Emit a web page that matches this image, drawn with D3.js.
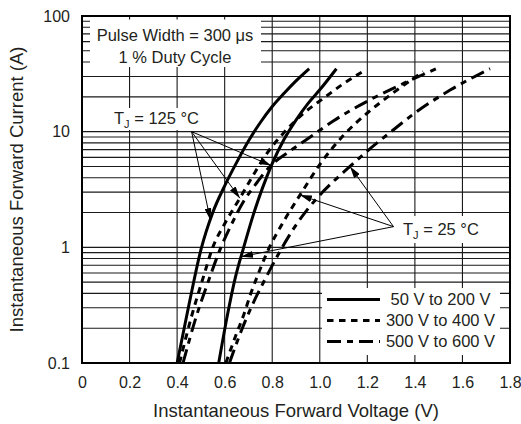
<!DOCTYPE html>
<html><head><meta charset="utf-8">
<script src="https://cdn.jsdelivr.net/npm/d3@7"></script>
<style>
html,body{margin:0;padding:0;background:#fff;}
svg{display:block;}
text{font-family:"Liberation Sans",Arial,Helvetica,sans-serif;fill:#231f20;}
</style>
</head><body>
<svg id="chart" width="521" height="424"></svg>
<script>
// ---------- data ----------
const xTickValues = [0, 0.2, 0.4, 0.6, 0.8, 1.0, 1.2, 1.4, 1.6, 1.8];
const xTickLabels = ["0", "0.2", "0.4", "0.6", "0.8", "1.0", "1.2", "1.4", "1.6", "1.8"];
const yTickValues = [0.1, 1, 10, 100];
const yTickLabels = ["0.1", "1", "10", "100"];
const seriesNames = ["50 V to 200 V", "300 V to 400 V", "500 V to 600 V"];

// [forward voltage (V), forward current (A)]
const tj125_50to200 = [[0.40,0.1],[0.45,0.32],[0.50,0.95],[0.55,2.0],[0.60,3.4],[0.65,5.4],[0.70,8.3],[0.75,12],[0.80,16.5],[0.85,21.5],[0.90,27.5],[0.955,35]];
const tj125_300to400 = [[0.41,0.1],[0.46,0.25],[0.51,0.55],[0.55,1.0],[0.60,1.6],[0.664,2.66],[0.72,4.2],[0.78,6.6],[0.847,9.7],[0.93,14.3],[1.015,19.4],[1.10,26],[1.18,33]];
const tj125_500to600 = [[0.425,0.1],[0.48,0.25],[0.53,0.5],[0.58,0.95],[0.63,1.6],[0.68,2.5],[0.73,3.5],[0.79,5.0],[0.87,6.7],[0.96,9.0],[1.06,12.5],[1.21,18.8],[1.35,26],[1.49,35]];
const tj25_50to200 = [[0.575,0.1],[0.61,0.25],[0.645,0.55],[0.68,1.0],[0.72,1.9],[0.76,3.3],[0.80,5.3],[0.85,8.6],[0.90,12.6],[0.95,17.5],[1.0,23],[1.07,35]];
const tj25_300to400 = [[0.605,0.1],[0.65,0.18],[0.68,0.26],[0.71,0.4],[0.74,0.58],[0.78,0.92],[0.85,1.7],[0.92,2.9],[1.0,5.2],[1.1,9.3],[1.2,14.5],[1.3,21],[1.435,33]];
const tj25_500to600 = [[0.62,0.1],[0.67,0.19],[0.72,0.33],[0.77,0.53],[0.82,0.83],[0.89,1.45],[0.95,2.15],[1.015,3.05],[1.127,5.0],[1.2,6.8],[1.3,10],[1.41,15],[1.55,23],[1.716,35]];

// annotation anchors (data units) and arrow target currents on each curve
const tj125Origin = [0.461, 10];
const tj125TargetCurrents = [1.72, 2.66, 5.1];
const tj25Origin = [1.31, 1.51];
const tj25TargetCurrents = [0.83, 2.83, 5.0];

// ---------- layout ----------
const L = 82, R = 510, T = 16, B = 363;
const svg = d3.select("#chart");
const x = d3.scaleLinear().domain([0, 1.8]).range([L, R]);
const y = d3.scaleLog().domain([0.1, 100]).range([B, T]);

const styles = [
  {dash: null},
  {dash: "6.5,5.5"},
  {dash: "14,6,6,6"}
];

// grid
const grid = svg.append("g").attr("stroke", "#1a1a1a").attr("stroke-width", 1.1);
grid.selectAll("line.v").data(xTickValues.filter(v => v > 0 && v < 1.8)).join("line")
  .attr("x1", d => x(d)).attr("x2", d => x(d)).attr("y1", T).attr("y2", B);
grid.selectAll("line.h").data(y.ticks().filter(v => v > 0.1 + 1e-9 && v < 100 - 1e-9)).join("line")
  .attr("x1", L).attr("x2", R).attr("y1", d => y(d)).attr("y2", d => y(d));

// white boxes covering grid behind labels
const boxes = [
  [90, 19.5, 171, 47.5],   // pulse width note
  [107, 108, 100, 22],     // TJ 125
  [400, 216, 92, 27],      // TJ 25
  [322, 288, 178, 67]      // legend
];
svg.append("g").selectAll("rect").data(boxes).join("rect")
  .attr("x", d => d[0]).attr("y", d => d[1]).attr("width", d => d[2]).attr("height", d => d[3])
  .attr("fill", "#fff");

// curves
const line = d3.line().x(d => x(d[0])).y(d => y(d[1])).curve(d3.curveMonotoneX);
const curves = [
  {data: tj125_50to200, s: 0}, {data: tj125_300to400, s: 1}, {data: tj125_500to600, s: 2},
  {data: tj25_50to200, s: 0}, {data: tj25_300to400, s: 1}, {data: tj25_500to600, s: 2}
];
svg.append("g").selectAll("path").data(curves).join("path")
  .attr("d", d => line(d.data))
  .attr("fill", "none").attr("stroke", "#000").attr("stroke-width", 3)
  .attr("stroke-dasharray", d => styles[d.s].dash);

// frame
svg.append("rect").attr("x", L).attr("y", T).attr("width", R - L).attr("height", B - T)
  .attr("fill", "none").attr("stroke", "#000").attr("stroke-width", 2);

// axes
const xAxis = d3.axisBottom(x).tickValues(xTickValues).tickSize(0).tickPadding(14)
  .tickFormat((d, i) => xTickLabels[i]);
const gx = svg.append("g").attr("transform", `translate(0,${B})`).call(xAxis);
gx.select(".domain").remove();
gx.selectAll("text").attr("font-size", 16).attr("font-family", null).style("fill", "#231f20");

const yAxis = d3.axisLeft(y).tickValues(yTickValues).tickSize(0).tickPadding(12)
  .tickFormat((d, i) => yTickLabels[i]);
const gy = svg.append("g").attr("transform", `translate(${L},0)`).call(yAxis);
gy.select(".domain").remove();
gy.selectAll("text").attr("font-size", 16).attr("font-family", null).style("fill", "#231f20");
svg.selectAll(".tick line").remove();
svg.selectAll("g").attr("font-family", null);

// axis titles
svg.append("text").attr("x", (L + R) / 2).attr("y", 417).attr("text-anchor", "middle")
  .attr("font-size", 18.5).text("Instantaneous Forward Voltage (V)");
svg.append("text").attr("transform", `translate(23,${(T + B) / 2}) rotate(-90)`)
  .attr("text-anchor", "middle").attr("font-size", 18.5).text("Instantaneous Forward Current (A)");

// notes
svg.append("text").attr("x", 175).attr("y", 41).attr("text-anchor", "middle").attr("font-size", 16.5)
  .text("Pulse Width = 300 \u03bcs");
svg.append("text").attr("x", 175).attr("y", 62.5).attr("text-anchor", "middle").attr("font-size", 16.5)
  .text("1 % Duty Cycle");

function tjLabel(px, py, anchor, temp) {
  const t = svg.append("text").attr("x", px).attr("y", py).attr("text-anchor", anchor).attr("font-size", 16.5);
  t.append("tspan").text("T");
  t.append("tspan").attr("dy", 4).attr("font-size", 11).text("J");
  t.append("tspan").attr("dy", -4).text(" = " + temp + " \u00b0C");
}
tjLabel(156.5, 123.5, "middle", "125");
tjLabel(403, 234.5, "start", "25");

// arrows
const defs = svg.append("defs");
defs.append("marker").attr("id", "ah").attr("viewBox", "0 0 12 7").attr("refX", 12).attr("refY", 3.5)
  .attr("markerWidth", 12).attr("markerHeight", 7).attr("markerUnits", "userSpaceOnUse").attr("orient", "auto")
  .append("path").attr("d", "M0,0 L12,3.5 L0,7 Z").attr("fill", "#000");

function vAt(curve, I) {
  const li = Math.log10(I);
  for (let k = 0; k < curve.length - 1; k++) {
    const a = Math.log10(curve[k][1]), b = Math.log10(curve[k + 1][1]);
    if (li >= a && li <= b) return curve[k][0] + (curve[k + 1][0] - curve[k][0]) * (li - a) / (b - a);
  }
  return curve[curve.length - 1][0];
}
const arrows = [];
[tj125_50to200, tj125_300to400, tj125_500to600].forEach((c, i) =>
  arrows.push({o: tj125Origin, t: [vAt(c, tj125TargetCurrents[i]), tj125TargetCurrents[i]]}));
[tj25_50to200, tj25_300to400, tj25_500to600].forEach((c, i) =>
  arrows.push({o: tj25Origin, t: [vAt(c, tj25TargetCurrents[i]), tj25TargetCurrents[i]]}));
svg.append("g").selectAll("line").data(arrows).join("line")
  .attr("x1", d => x(d.o[0])).attr("y1", d => y(d.o[1]))
  .attr("x2", d => x(d.t[0])).attr("y2", d => y(d.t[1]))
  .attr("stroke", "#000").attr("stroke-width", 1).attr("marker-end", "url(#ah)");

// legend
const lg = svg.append("g");
const rowsY = [299.5, 320.5, 341.5];
seriesNames.forEach((name, i) => {
  lg.append("line").attr("x1", 327).attr("x2", 380).attr("y1", rowsY[i]).attr("y2", rowsY[i])
    .attr("stroke", "#000").attr("stroke-width", 3).attr("stroke-dasharray", styles[i].dash);
  lg.append("text").attr("x", 440.5).attr("y", rowsY[i]).attr("dy", "0.35em")
    .attr("text-anchor", "middle").attr("font-size", 16.5).text(name);
});
</script>
</body></html>
